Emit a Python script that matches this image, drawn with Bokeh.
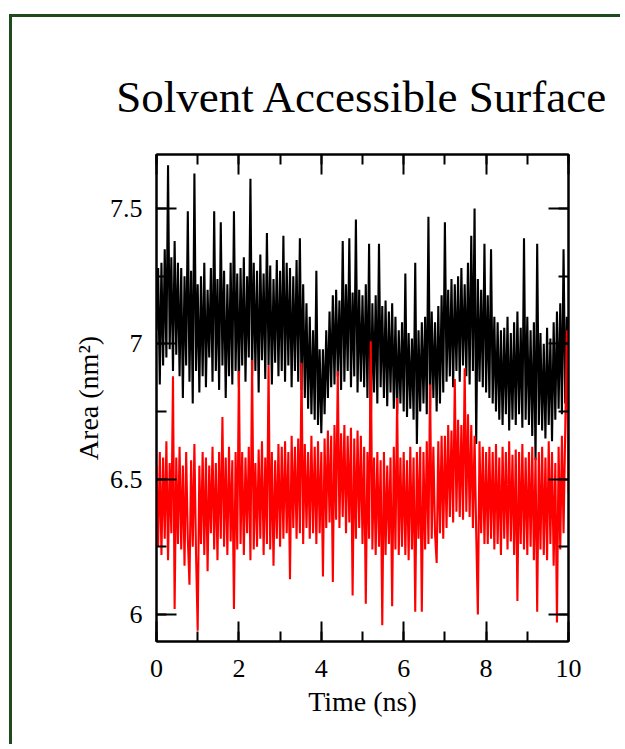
from bokeh.plotting import figure
from bokeh.models import (Range1d, LinearAxis, SingleIntervalTicker, PrintfTickFormatter,
                          CustomJSTickFormatter)
from bokeh.embed import file_html
from bokeh.resources import INLINE

# ---- data ----
t_start = 0.0
t_step = 0.04          # ns between samples
title_text = "Solvent Accessible Surface"
x_label = "Time (ns)"
y_label = "Area (nm\u00b2)"

black_area = [
    7.05, 7.28, 6.85, 7.30, 6.92, 7.35, 6.95, 7.66, 6.98, 7.32, 6.90, 7.38, 6.96, 7.30, 6.88, 7.28, 6.80, 7.25, 6.92, 7.49, 6.86, 7.27, 6.78, 7.63, 6.90,
    7.22, 6.82, 7.25, 6.88, 7.30, 6.84, 7.20, 6.95, 7.28, 6.86, 7.49, 6.90, 7.24, 6.83, 7.45, 6.92, 7.27, 6.80, 7.22, 6.88, 7.30, 6.85, 7.49, 6.90, 7.26,
    6.84, 7.28, 6.92, 7.32, 6.86, 7.25, 6.95, 7.61, 6.88, 7.30, 6.90, 7.27, 6.82, 7.33, 6.94, 7.26, 6.87, 7.41, 6.92, 7.29, 6.85, 7.24, 6.93, 7.31, 6.88,
    7.27, 6.90, 7.40, 6.86, 7.30, 6.92, 7.28, 6.84, 7.25, 6.90, 7.31, 6.86, 7.39, 6.83, 7.22, 6.80, 7.15, 6.76, 7.10, 6.74, 7.05, 6.72, 7.27, 6.70, 6.98,
    6.67, 6.98, 6.74, 7.05, 6.80, 7.12, 6.84, 7.18, 6.85, 7.20, 6.88, 7.16, 6.83, 7.38, 6.86, 7.22, 6.90, 7.39, 6.84, 7.19, 6.88, 7.46, 6.82, 7.20, 6.86,
    7.18, 6.84, 7.22, 6.80, 7.37, 6.67, 7.15, 6.82, 7.18, 6.78, 7.37, 6.84, 7.14, 6.80, 7.16, 6.77, 7.12, 6.82, 7.15, 6.76, 7.10, 6.74, 7.05, 6.78, 7.08,
    6.75, 7.26, 6.73, 7.04, 6.76, 7.02, 6.72, 7.30, 6.63, 7.05, 6.75, 7.08, 6.78, 7.10, 6.74, 7.47, 6.76, 7.12, 6.80, 7.08, 6.75, 7.14, 6.78, 7.18, 6.82,
    7.45, 6.86, 7.20, 6.88, 7.24, 6.84, 7.22, 6.90, 7.25, 6.86, 7.28, 6.92, 7.22, 6.88, 7.30, 6.85, 7.40, 6.90, 7.50, 6.63, 7.24, 6.86, 7.20, 6.84, 7.37,
    6.82, 7.18, 6.80, 7.35, 6.78, 7.10, 6.75, 7.08, 6.72, 7.05, 6.70, 7.06, 6.74, 7.10, 6.68, 7.04, 6.72, 7.08, 6.70, 7.12, 6.74, 7.06, 6.69, 7.39, 6.72,
    7.10, 6.70, 7.05, 6.66, 7.08, 6.57, 7.37, 6.70, 7.04, 6.68, 7.00, 6.65, 7.06, 6.70, 7.02, 6.64, 7.08, 6.72, 7.12, 6.76, 7.15, 6.74, 7.35, 6.78, 7.10,
    6.85,
]

red_area = [
    6.55, 6.25, 6.60, 6.22, 6.58, 6.28, 6.64, 6.20, 6.56, 6.30, 6.88, 6.02, 6.58, 6.26, 6.62, 6.24, 6.55, 6.18, 6.60, 6.28, 6.11, 6.57, 6.25, 6.63, 6.22,
    5.94, 6.55, 6.26, 6.60, 6.22, 6.58, 6.16, 6.55, 6.30, 6.62, 6.24, 6.56, 6.20, 6.60, 6.28, 6.73, 6.25, 6.58, 6.22, 6.62, 6.27, 6.57, 6.02, 6.60, 6.24,
    6.90, 6.26, 6.60, 6.22, 6.58, 6.30, 6.62, 6.20, 6.94, 6.24, 6.56, 6.25, 6.61, 6.28, 6.64, 6.22, 6.58, 6.26, 6.92, 6.24, 6.60, 6.18, 6.57, 6.28, 6.63,
    6.25, 6.62, 6.28, 6.64, 6.30, 6.60, 6.13, 6.66, 6.32, 6.62, 6.28, 6.65, 6.30, 6.93, 6.26, 6.63, 6.32, 6.60, 6.28, 6.66, 6.30, 6.62, 6.26, 6.64, 6.30,
    6.60, 6.14, 6.65, 6.32, 6.68, 6.34, 6.66, 6.12, 6.70, 6.35, 6.90, 6.32, 6.67, 6.36, 6.70, 6.30, 6.66, 6.34, 6.69, 6.07, 6.65, 6.28, 6.68, 6.32, 6.66,
    6.26, 6.62, 6.04, 6.60, 6.28, 7.01, 6.24, 6.58, 6.22, 6.60, 6.25, 6.57, 5.96, 6.60, 6.22, 6.55, 6.26, 6.58, 6.03, 6.62, 6.24, 6.80, 6.22, 6.58, 6.25,
    6.60, 6.22, 6.57, 6.20, 6.62, 6.24, 6.58, 6.01, 6.60, 6.28, 6.62, 6.01, 6.60, 6.24, 6.64, 6.26, 6.85, 6.28, 6.62, 6.30, 6.19, 6.64, 6.30, 6.66, 6.28,
    6.66, 6.32, 6.70, 6.36, 6.68, 6.34, 6.87, 6.38, 6.72, 6.36, 6.70, 6.35, 6.91, 6.38, 6.74, 6.36, 6.70, 6.32, 6.66, 6.30, 6.00, 6.64, 6.30, 6.62, 6.26,
    6.60, 6.26, 6.62, 6.28, 6.60, 6.24, 6.63, 6.26, 6.58, 6.22, 6.62, 6.28, 6.60, 6.24, 6.64, 6.27, 6.59, 6.22, 6.61, 6.05, 6.60, 6.26, 6.63, 6.24, 6.58,
    6.22, 6.60, 6.25, 6.62, 6.20, 6.58, 6.01, 6.60, 6.24, 6.62, 6.22, 6.58, 6.20, 6.64, 6.26, 6.60, 6.18, 6.56, 5.97, 6.62, 6.24, 6.66, 6.30, 6.68, 7.05,
    6.45,
]

time_ns = [round(t_start + i * t_step, 2) for i in range(len(black_area))]

SERIF = "Liberation Serif"
GREEN = "#1f4a1c"

p = figure(width=611, height=730, output_backend="svg", toolbar_location=None,
           x_range=Range1d(0, 10), y_range=Range1d(5.9, 7.7),
           x_axis_location=None, y_axis_location=None,
           min_border_left=144, min_border_right=55, min_border_top=137, min_border_bottom=106)
p.styles = {"margin-left": "9px", "margin-top": "14px",
            "border-left": "3px solid " + GREEN, "border-top": "3px solid " + GREEN}
p.xgrid.visible = False
p.ygrid.visible = False
p.background_fill_color = "white"
p.border_fill_color = "white"
p.outline_line_color = "black"
p.outline_line_width = 2

p.title.text = title_text
p.title.align = "center"
p.title.text_font = SERIF
p.title.text_font_size = "45px"
p.title.text_font_style = "normal"
p.title.text_color = "black"
p.title.standoff = 66


def style_axis(ax):
    ax.major_tick_in = 20
    ax.major_tick_out = 0
    ax.minor_tick_in = 10
    ax.minor_tick_out = 0
    ax.major_tick_line_color = "black"
    ax.major_tick_line_width = 2
    ax.minor_tick_line_color = "black"
    ax.minor_tick_line_width = 2
    ax.axis_line_color = "black"
    ax.axis_line_width = 2
    ax.major_label_text_font = SERIF
    ax.major_label_text_font_size = "26px"
    ax.major_label_text_color = "black"
    ax.axis_label_text_font = SERIF
    ax.axis_label_text_font_size = "28px"
    ax.axis_label_text_font_style = "normal"
    ax.axis_label_text_color = "black"


x_ticker = SingleIntervalTicker(interval=2, num_minor_ticks=2)
y_ticker = SingleIntervalTicker(interval=0.5, num_minor_ticks=2)
blank = CustomJSTickFormatter(code="return ''")

bottom = LinearAxis(ticker=x_ticker, formatter=PrintfTickFormatter(format="%g"), axis_label=x_label)
style_axis(bottom)
bottom.major_label_standoff = 18
bottom.axis_label_standoff = 6
p.add_layout(bottom, "below")

left = LinearAxis(ticker=y_ticker, formatter=PrintfTickFormatter(format="%g"), axis_label=y_label)
style_axis(left)
left.major_label_standoff = 14
left.axis_label_standoff = 3
p.add_layout(left, "left")

top = LinearAxis(ticker=x_ticker, formatter=blank)
style_axis(top)
top.major_label_standoff = 0
p.add_layout(top, "above")

right = LinearAxis(ticker=y_ticker, formatter=blank)
style_axis(right)
right.major_label_standoff = 0
p.add_layout(right, "right")

p.line(time_ns, black_area, line_color="black", line_width=2.1)
p.line(time_ns, red_area, line_color="#ff0000", line_width=2.1)

open("out.html", "w").write(file_html(p, INLINE))
